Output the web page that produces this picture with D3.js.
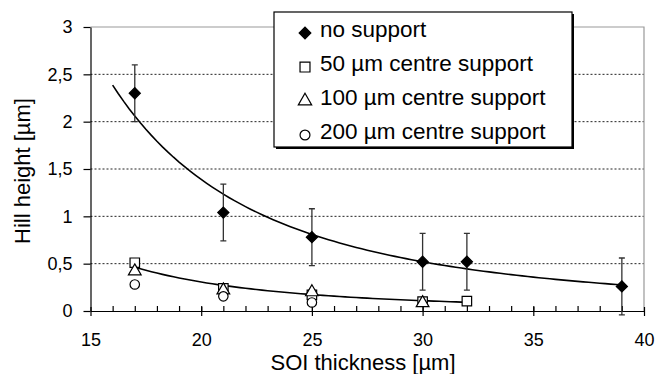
<!DOCTYPE html>
<html>
<head>
<meta charset="utf-8">
<script src="https://cdn.jsdelivr.net/npm/d3@7"></script>
<style>
  body { margin: 0; background: #fff; }
  svg text { font-family: "Liberation Sans", Arial, sans-serif; fill: #000; }
</style>
</head>
<body>
<svg id="chart" width="655" height="374"></svg>
<script>
// SOI thickness values (x) and measured hill heights (y) per support type
const thicknessNoSupport = [17, 21, 25, 30, 32, 39]
const noSupport = [2.3, 1.04, 0.78, 0.52, 0.52, 0.26]
const noSupportErr = [0.3, 0.3, 0.3, 0.3, 0.3, 0.3]

const thickness50 = [17, 21, 25, 30, 32]
const support50 = [0.51, 0.24, 0.17, 0.1, 0.105]

const thickness100 = [17, 21, 25, 30]
const support100 = [0.42, 0.22, 0.2, 0.085]

const thickness200 = [17, 21, 25]
const support200 = [0.28, 0.155, 0.09]

const legendLabels = ['no support', '50 µm centre support', '100 µm centre support', '200 µm centre support']
const yTicks = [0, 0.5, 1, 1.5, 2, 2.5, 3]
const xTicks = [15, 20, 25, 30, 35, 40]

const svg = d3.select('#chart')
const x = d3.scaleLinear().domain([15, 40]).range([90.5, 644])
const y = d3.scaleLinear().domain([0, 3]).range([311, 27])

const locale = d3.formatLocale({ decimal: ',', thousands: '.', grouping: [3], currency: ['', ''] })
const fmt = v => locale.format('~g')(v)

// gridlines (dotted) and grey frame
svg.append('g')
    .selectAll('line')
    .data(yTicks.filter(t => t > 0 && t < 3))
    .join('line')
    .attr('x1', x(15)).attr('x2', x(40))
    .attr('y1', d => y(d)).attr('y2', d => y(d))
    .attr('stroke', '#222')
    .attr('stroke-width', 1)
    .attr('stroke-dasharray', '2,2')

svg.append('path')
    .attr('d', `M${x(15)},${y(3)}H${x(40)}V${y(0)}`)
    .attr('fill', 'none')
    .attr('stroke', '#999')
    .attr('stroke-width', 1.2)

// y axis
const yAxis = svg.append('g')
    .attr('transform', `translate(${x(15)},0)`)
    .call(d3.axisLeft(y).tickValues(yTicks).tickFormat(fmt).tickSizeInner(7).tickSizeOuter(0).tickPadding(11))
yAxis.selectAll('text').attr('font-size', '18px').attr('font-family', '"Liberation Sans", Arial, sans-serif')
yAxis.selectAll('path, line').attr('stroke', '#000').attr('stroke-width', 1.2)

// x axis: minor ticks inside, major ticks crossing the axis
svg.append('g')
    .attr('transform', `translate(0,${y(0)})`)
    .call(d3.axisBottom(x).tickValues(d3.range(16, 40)).tickSize(-5).tickFormat(''))
    .call(g => g.select('.domain').remove())
    .selectAll('line').attr('stroke', '#000').attr('stroke-width', 1.2)

const xAxis = svg.append('g')
    .attr('transform', `translate(0,${y(0)})`)
    .call(d3.axisBottom(x).tickValues(xTicks).tickSizeInner(5).tickSizeOuter(0).tickPadding(17))
xAxis.selectAll('.tick line').attr('y1', -4)
xAxis.selectAll('path, line').attr('stroke', '#000').attr('stroke-width', 1.2)
xAxis.selectAll('text').attr('font-size', '18px').attr('font-family', '"Liberation Sans", Arial, sans-serif')

// axis titles
svg.append('text')
    .attr('x', 363).attr('y', 370)
    .attr('text-anchor', 'middle')
    .attr('font-size', '22px')
    .text('SOI thickness [µm]')

svg.append('text')
    .attr('transform', 'translate(30,171) rotate(-90)')
    .attr('text-anchor', 'middle')
    .attr('font-size', '22px')
    .text('Hill height [µm]')

// power trendline (least squares in log-log space, like a spreadsheet trendline)
function powerFit(xs, ys) {
    const lx = xs.map(Math.log)
    const ly = ys.map(Math.log)
    const mx = d3.mean(lx)
    const my = d3.mean(ly)
    const b = d3.sum(lx, (v, i) => (v - mx) * (ly[i] - my)) / d3.sum(lx, v => (v - mx) ** 2)
    const a = Math.exp(my - b * mx)
    return v => a * Math.pow(v, b)
}

const line = d3.line().x(d => x(d[0])).y(d => y(d[1])).curve(d3.curveLinear)

const fitNo = powerFit(thicknessNoSupport, noSupport)
const fit50 = powerFit(thickness50, support50)

svg.append('path')
    .datum(d3.range(16, 39.001, 0.25).map(v => [v, fitNo(v)]))
    .attr('d', line)
    .attr('fill', 'none').attr('stroke', '#000').attr('stroke-width', 1.6)

svg.append('path')
    .datum(d3.range(17, 32.001, 0.25).map(v => [v, fit50(v)]))
    .attr('d', line)
    .attr('fill', 'none').attr('stroke', '#000').attr('stroke-width', 1.6)

// error bars for "no support"
const errG = svg.append('g').attr('stroke', '#333').attr('stroke-width', 1.3)
thicknessNoSupport.forEach((t, i) => {
    const lo = y(noSupport[i] - noSupportErr[i])
    const hi = y(noSupport[i] + noSupportErr[i])
    const cx = x(t)
    errG.append('path').attr('d', `M${cx},${lo}V${hi}M${cx - 3},${lo}H${cx + 3}M${cx - 3},${hi}H${cx + 3}`)
})

// markers
const markerDefs = [
    { sym: d3.symbolSquare, size: 62, rot: 45, fill: '#000' },
    { sym: d3.symbolSquare, size: 90, rot: 0, fill: '#fff' },
    { sym: d3.symbolTriangle, size: 70, rot: 0, fill: '#fff' },
    { sym: d3.symbolCircle, size: 70, rot: 0, fill: '#fff' },
]
const seriesList = [
    [thicknessNoSupport, noSupport],
    [thickness50, support50],
    [thickness100, support100],
    [thickness200, support200],
]

function drawMarker(g, def, cx, cy, scale = 1) {
    g.append('path')
        .attr('d', d3.symbol().type(def.sym).size(def.size * scale)())
        .attr('transform', `translate(${cx},${cy}) rotate(${def.rot})`)
        .attr('fill', def.fill)
        .attr('stroke', '#000')
        .attr('stroke-width', 1.2)
}

seriesList.forEach(([xs, ys], s) => {
    const g = svg.append('g')
    xs.forEach((t, i) => drawMarker(g, markerDefs[s], x(t), y(ys[i])))
})

// legend box with drop shadow
const legend = svg.append('g')
legend.append('rect')
    .attr('x', 276).attr('y', 14).attr('width', 298).attr('height', 135)
    .attr('fill', '#000')
legend.append('rect')
    .attr('x', 274).attr('y', 12).attr('width', 298).attr('height', 135)
    .attr('fill', '#fff').attr('stroke', '#000').attr('stroke-width', 1.2)

legendLabels.forEach((label, i) => {
    const base = 37 + i * 34
    drawMarker(legend, markerDefs[i], 305, base - 4, 1.1)
    legend.append('text')
        .attr('x', 320).attr('y', base)
        .attr('font-size', '22.5px')
        .text(label)
})
</script>
</body>
</html>
